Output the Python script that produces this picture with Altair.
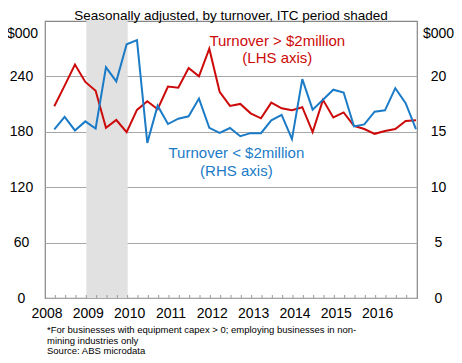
import altair as alt
import pandas as pd

# ---- data -----------------------------------------------------------------
# quarterly observations, 2008 Q1 .. 2016 Q4 (plotted at end of quarter)
years = list(range(2008, 2017))
quarter_nums = [1, 2, 3, 4]
period_x = [y + (q - 0.1) / 4 for y in years for q in quarter_nums]

# Turnover > $2million (LHS, $000)
large = [207.7, 230, 252.8, 234, 224.4, 184.4, 192.8, 179.7, 203.7, 213,
         204.4, 229, 227.7, 249, 240, 270, 223.3, 208, 210.2, 200,
         194.6, 211.6, 205.5, 203.3, 206.6, 179.7, 214.6, 195.5, 201, 186.5,
         183, 177.8, 180.8, 183, 191.7, 192.4]

# Turnover < $2million (RHS, $000)
small = [15.22, 16.34, 15.12, 15.94, 15.3, 20.82, 19.55, 22.9, 23.27, 14.0,
         17.36, 15.7, 16.18, 16.4, 18.0, 15.36, 14.91, 15.34, 14.6, 14.88,
         14.88, 16.04, 16.52, 14.34, 19.76, 17.0, 17.9, 18.8, 18.55, 15.49,
         15.67, 16.82, 16.94, 18.94, 17.58, 15.25]

itc_start = [2009.0]
itc_end = [2010.0]

left_ticks = [0, 60, 120, 180, 240]
right_ticks = [0, 5, 10, 15, 20]
year_ticks = years
minor_ticks = [y + q / 4 for y in years for q in [1, 2, 3]] + years[1:]

title_text = ["Seasonally adjusted, by turnover, ITC period shaded"]
red_label = ["Turnover > $2million", "(LHS axis)"]
red_label_x = [2013.62, 2013.62]
red_label_y = [278, 260]
blue_label = ["Turnover < $2million", "(RHS axis)"]
blue_label_x = [2012.63, 2012.63]
blue_label_y = [157, 137.5]
notes = ["*For businesses with equipment capex > 0; employing businesses in non-",
         "mining industries only",
         "Source: ABS microdata"]

RED = "#CC0A0A"
BLUE = "#1B7BC6"
FONT = "Liberation Sans"
W, H = 372, 277
AX_FS = 14

xdom = [2008, 2017]
ldom = [0, 300]
rdom = [0, 25]

df = pd.DataFrame({"x": period_x, "large": large, "small": small})

xs = alt.Scale(domain=xdom, nice=False, zero=False)
x_axis = alt.Axis(values=year_ticks, format="d", ticks=False, domain=False,
                  grid=False, labelPadding=8, labelFontSize=AX_FS, labelFont=FONT,
                  labelColor="black", title=None, labelFlush=False, labelOffset=1.5)

shade = alt.Chart(pd.DataFrame({"s": itc_start, "e": itc_end})).mark_rect(
    color="#E1E1E1").encode(
    x=alt.X("s:Q", scale=xs, axis=x_axis),
    x2="e:Q",
    y=alt.value(0), y2=alt.value(H),
)

red_line = alt.Chart(df).mark_line(color=RED, strokeWidth=2).encode(
    x=alt.X("x:Q", scale=xs, axis=x_axis),
    y=alt.Y("large:Q", scale=alt.Scale(domain=ldom, nice=False),
            axis=alt.Axis(values=left_ticks, grid=True, gridColor="#A6A6A6",
                          gridWidth=1, domain=False, ticks=False, tickSize=0,
                          labelAlign="center", labelPadding=24, labelFontSize=AX_FS,
                          labelFont=FONT, labelColor="black",
                          title="$000", titleAngle=0, titleAlign="center",
                          titleBaseline="middle", titleX=-23, titleY=12,
                          titleFontWeight="normal", titleFontSize=AX_FS,
                          titleFont=FONT, titleColor="black")),
)

blue_line = alt.Chart(df).mark_line(color=BLUE, strokeWidth=2).encode(
    x=alt.X("x:Q", scale=xs, axis=x_axis),
    y=alt.Y("small:Q", scale=alt.Scale(domain=rdom, nice=False),
            axis=alt.Axis(orient="right", values=right_ticks, grid=False,
                          domain=False, ticks=False, tickSize=0,
                          labelAlign="center", labelPadding=21, labelFontSize=AX_FS,
                          labelFont=FONT, labelColor="black",
                          title="$000", titleAngle=0, titleAlign="center",
                          titleBaseline="middle", titleX=21, titleY=12,
                          titleFontWeight="normal", titleFontSize=AX_FS,
                          titleFont=FONT, titleColor="black")),
)

minor = alt.Chart(pd.DataFrame({"q": minor_ticks})).mark_rule(
    color="#9A9A9A", strokeWidth=1).encode(
    x=alt.X("q:Q", scale=xs, axis=x_axis),
    y=alt.value(H - 3), y2=alt.value(H),
)

red_txt = alt.Chart(pd.DataFrame({"t": red_label, "x": red_label_x, "y": red_label_y})
                    ).mark_text(color=RED, fontSize=15, font=FONT, align="center",
                                baseline="middle").encode(
    x=alt.X("x:Q", scale=xs, axis=x_axis),
    y=alt.Y("y:Q", scale=alt.Scale(domain=ldom, nice=False), axis=None),
    text="t:N",
)

blue_txt = alt.Chart(pd.DataFrame({"t": blue_label, "x": blue_label_x, "y": blue_label_y})
                     ).mark_text(color=BLUE, fontSize=15, font=FONT, align="center",
                                 baseline="middle").encode(
    x=alt.X("x:Q", scale=xs, axis=x_axis),
    y=alt.Y("y:Q", scale=alt.Scale(domain=ldom, nice=False), axis=None),
    text="t:N",
)

title = alt.Chart(pd.DataFrame({"t": title_text})).mark_text(
    fontSize=13.5, font=FONT, color="black", align="center",
    baseline="alphabetic").encode(
    x=alt.value(W / 2), y=alt.value(-1.5), text="t:N")

note_df = pd.DataFrame({"t": notes, "i": [0, 1, 2]})
footnote = alt.Chart(note_df).mark_text(
    fontSize=9.5, font=FONT, color="black", align="left", baseline="middle").encode(
    x=alt.value(2),
    y=alt.Y("i:Q", scale=alt.Scale(domain=[0, 2], range=[H + 32, H + 53],
                                   nice=False, zero=False), axis=None),
    text="t:N")

chart = alt.layer(shade, red_line, blue_line, minor, red_txt, blue_txt,
                  title, footnote).resolve_scale(y="independent").properties(
    width=W, height=H,
    autosize=alt.AutoSizeParams(type="none"),
    padding={"left": 37, "top": 13, "right": 37, "bottom": 57},
).configure_view(stroke="#868686", strokeWidth=1.2)

chart.save("out.html", embed_options={"renderer": "svg", "actions": False})
